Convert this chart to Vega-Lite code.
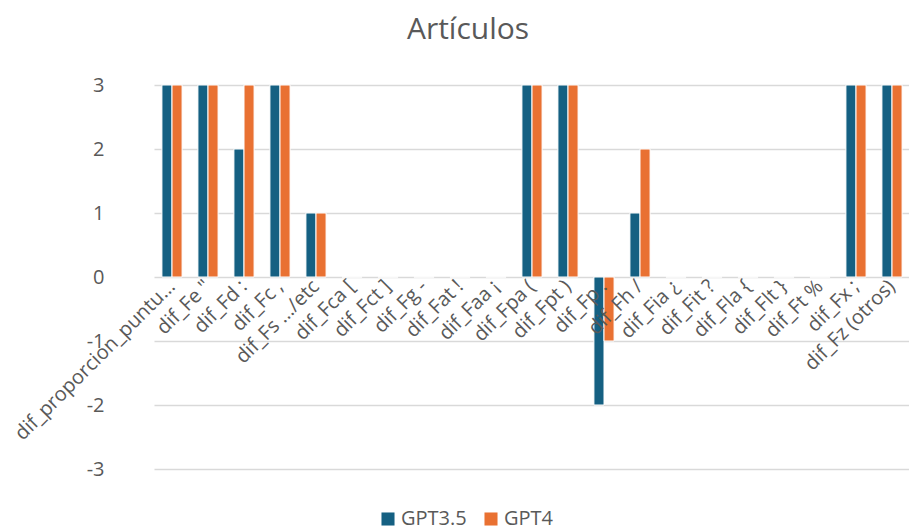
{
  "$schema": "https://vega.github.io/schema/vega-lite/v6.json",
  "autosize": {"type": "none"},
  "width": 756,
  "height": 384,
  "padding": {"left": 154, "top": 85, "right": 0, "bottom": 63},
  "background": "white",
  "title": {"text": "Artículos", "fontSize": 30, "font": "Open Sans", "fontWeight": "normal", "color": "#595959", "anchor": "middle", "dx": -64, "offset": 30},
  "data": {"values": [
    {"cat": "dif_proporcion_puntuacion", "model": "GPT3.5", "value": 3},
    {"cat": "dif_proporcion_puntuacion", "model": "GPT4", "value": 3},
    {"cat": "dif_Fe \"", "model": "GPT3.5", "value": 3},
    {"cat": "dif_Fe \"", "model": "GPT4", "value": 3},
    {"cat": "dif_Fd :", "model": "GPT3.5", "value": 2},
    {"cat": "dif_Fd :", "model": "GPT4", "value": 3},
    {"cat": "dif_Fc ,", "model": "GPT3.5", "value": 3},
    {"cat": "dif_Fc ,", "model": "GPT4", "value": 3},
    {"cat": "dif_Fs …/etc", "model": "GPT3.5", "value": 1},
    {"cat": "dif_Fs …/etc", "model": "GPT4", "value": 1},
    {"cat": "dif_Fca [", "model": "GPT3.5", "value": 0},
    {"cat": "dif_Fca [", "model": "GPT4", "value": 0},
    {"cat": "dif_Fct ]", "model": "GPT3.5", "value": 0},
    {"cat": "dif_Fct ]", "model": "GPT4", "value": 0},
    {"cat": "dif_Fg -", "model": "GPT3.5", "value": 0},
    {"cat": "dif_Fg -", "model": "GPT4", "value": 0},
    {"cat": "dif_Fat !", "model": "GPT3.5", "value": 0},
    {"cat": "dif_Fat !", "model": "GPT4", "value": 0},
    {"cat": "dif_Faa ¡", "model": "GPT3.5", "value": 0},
    {"cat": "dif_Faa ¡", "model": "GPT4", "value": 0},
    {"cat": "dif_Fpa (", "model": "GPT3.5", "value": 3},
    {"cat": "dif_Fpa (", "model": "GPT4", "value": 3},
    {"cat": "dif_Fpt )", "model": "GPT3.5", "value": 3},
    {"cat": "dif_Fpt )", "model": "GPT4", "value": 3},
    {"cat": "dif_Fp .", "model": "GPT3.5", "value": -2},
    {"cat": "dif_Fp .", "model": "GPT4", "value": -1},
    {"cat": "dif_Fh /", "model": "GPT3.5", "value": 1},
    {"cat": "dif_Fh /", "model": "GPT4", "value": 2},
    {"cat": "dif_Fia ¿", "model": "GPT3.5", "value": 0},
    {"cat": "dif_Fia ¿", "model": "GPT4", "value": 0},
    {"cat": "dif_Fit ?", "model": "GPT3.5", "value": 0},
    {"cat": "dif_Fit ?", "model": "GPT4", "value": 0},
    {"cat": "dif_Fla {", "model": "GPT3.5", "value": 0},
    {"cat": "dif_Fla {", "model": "GPT4", "value": 0},
    {"cat": "dif_Flt }", "model": "GPT3.5", "value": 0},
    {"cat": "dif_Flt }", "model": "GPT4", "value": 0},
    {"cat": "dif_Ft %", "model": "GPT3.5", "value": 0},
    {"cat": "dif_Ft %", "model": "GPT4", "value": 0},
    {"cat": "dif_Fx ;", "model": "GPT3.5", "value": 3},
    {"cat": "dif_Fx ;", "model": "GPT4", "value": 3},
    {"cat": "dif_Fz (otros)", "model": "GPT3.5", "value": 3},
    {"cat": "dif_Fz (otros)", "model": "GPT4", "value": 3}
  ]},
  "mark": {"type": "bar", "stroke": "white", "strokeWidth": 1},
  "encoding": {
    "x": {
      "field": "cat", "type": "nominal", "sort": null, "title": null,
      "scale": {"paddingInner": 0.44, "paddingOuter": 0.22},
      "axis": {"offset": -192, "labelAngle": -45, "labelAlign": "right", "labelBaseline": "middle",
               "labelFontSize": 20, "labelFont": "Open Sans", "labelColor": "#595959",
               "labelLimit": 218, "labelPadding": 6, "domain": false, "ticks": false, "zindex": 1}
    },
    "xOffset": {"field": "model", "type": "nominal", "scale": {"paddingInner": 0}},
    "y": {
      "field": "value", "type": "quantitative", "title": null,
      "scale": {"domain": [-3, 3], "nice": false},
      "axis": {"values": [-3, -2, -1, 0, 1, 2, 3], "labelExpr": "'' + datum.value",
               "labelFontSize": 20, "labelFont": "Open Sans",
               "labelColor": "#595959", "labelPadding": 50, "domain": false, "ticks": false,
               "gridColor": "#d9d9d9", "gridWidth": 1.5}
    },
    "color": {
      "field": "model", "type": "nominal", "title": null,
      "scale": {"domain": ["GPT3.5", "GPT4"], "range": ["#156082", "#E97132"]},
      "legend": {"orient": "none", "legendX": 224, "legendY": 424, "direction": "horizontal",
                 "symbolType": "square", "symbolSize": 170, "symbolStrokeWidth": 0,
                 "labelFontSize": 20, "labelFont": "Open Sans", "labelColor": "#595959",
                 "columnPadding": 14, "labelOffset": 3}
    }
  },
  "config": {"view": {"stroke": null}}
}
